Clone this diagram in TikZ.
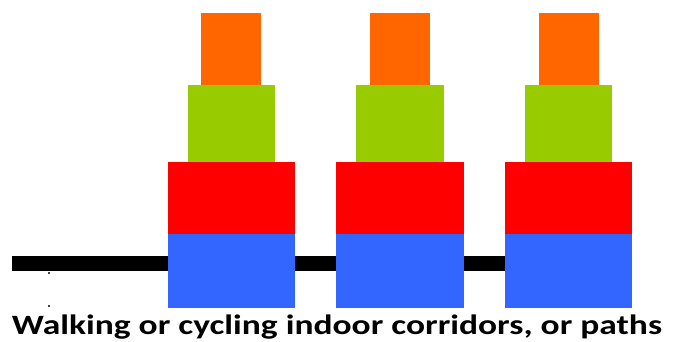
\documentclass[tikz,border=0pt]{standalone}
\usepackage{fontspec}
\setmainfont{Carlito}
\usepackage{xcolor}
\usetikzlibrary{positioning}

\definecolor{tierblue}{HTML}{3366FF}
\definecolor{tierred}{HTML}{FF0000}
\definecolor{tiergreen}{HTML}{99CC00}
\definecolor{tierorange}{HTML}{FF6600}

\begin{document}
\begin{tikzpicture}[
    x=1pt, y=-1pt,
    tier/.style={rectangle, inner sep=0pt, outer sep=0pt, draw=none},
    road/.style={line width=15pt},
    caption/.style={font=\fontsize{28}{30}\selectfont\bfseries, anchor=base, inner sep=0pt}
]
    \useasboundingbox (0,0) rectangle (677,341);

    % path running under the stacks
    \coordinate (start) at (12,263.5);
    \node[tier, minimum width=127.5pt, minimum height=74pt] (blue3) at (568.5,271) {};
    \draw[road] (start) -- (start -| blue3.west);

    \foreach \i/\x in {1/231.25, 2/400, 3/568.5} {
        \node[tier, fill=tierblue, minimum width=127.5pt, minimum height=74pt] (blue\i) at (\x,271) {};
        \node[tier, fill=tierred, minimum width=127.5pt, minimum height=72pt, above=0pt of blue\i] (red\i) {};
        \node[tier, fill=tiergreen, minimum width=87.5pt, minimum height=77pt, above=0pt of red\i] (green\i) {};
        \node[tier, fill=tierorange, minimum width=60pt, minimum height=72pt, above=0pt of green\i] (orange\i) {};
    }

    \fill (49,273) circle (1.2pt);
    \fill (49,306) circle (1.2pt);

    \node[caption] (label) at (337,334) {\scalebox{1.267}[1]{Walking or cycling indoor corridors, or paths}};
\end{tikzpicture}
\end{document}
